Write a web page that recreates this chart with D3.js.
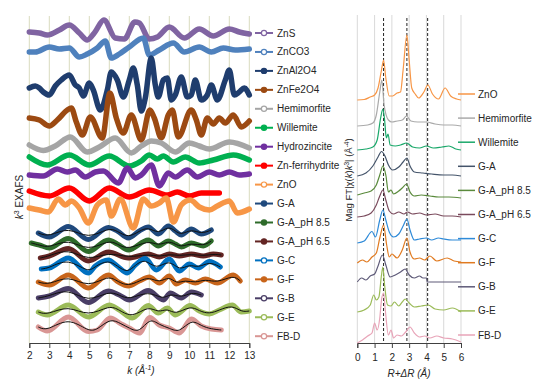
<!DOCTYPE html>
<html><head><meta charset="utf-8">
<script src="https://cdn.jsdelivr.net/npm/d3@7"></script>
<style>body{margin:0;background:#fff}svg{display:block;font-family:"Liberation Sans",Arial,sans-serif}</style>
</head><body><svg id="c" width="549" height="391"></svg>
<script>
// ---------- DATA ----------
const kTicks = [2,3,4,5,6,7,8,9,10,11,12,13];
const rTicks = [0,1,2,3,4,5,6];
const dashedR = [1.52, 2.87, 4.07];

// left panel: k^3 EXAFS (stacked, arbitrary units)  [k, value]
const ZnS = [[2.0,31.1],[2.5,31.0],[2.9,30.8],[3.5,31.3],[4.0,31.8],[4.5,31.0],[4.9,30.3],[5.25,31.0],[5.73,32.3],[6.3,30.5],[6.75,30.4],[7.28,32.1],[7.5,32.0],[8.0,30.4],[8.4,30.6],[9.0,31.6],[9.75,30.5],[10.5,31.4],[11.2,30.7],[12.0,31.4],[12.5,31.1],[13.0,30.9]];
const ZnCO3 = [[2.0,29.1],[2.3,29.1],[3.0,29.6],[3.5,29.4],[4.0,29.5],[4.5,28.6],[4.9,28.9],[5.4,29.5],[5.8,30.2],[6.1,28.5],[6.5,28.9],[7.0,29.6],[7.7,30.5],[8.0,28.8],[8.5,29.3],[9.2,30.0],[9.75,29.1],[10.5,29.6],[11.1,29.1],[11.7,29.5],[12.3,29.3],[13.0,29.4]];
const ZnAl2O4 = [[2.0,25.5],[2.3,25.7],[2.5,25.5],[2.7,25.1],[3.0,24.8],[3.3,25.7],[3.6,26.3],[4.0,26.8],[4.3,25.8],[4.5,25.5],[4.7,24.7],[5.0,26.0],[5.2,25.3],[5.55,23.3],[5.9,25.3],[6.1,27.1],[6.4,26.3],[6.7,24.6],[7.0,26.3],[7.2,27.5],[7.4,25.8],[7.6,23.2],[7.8,24.5],[8.1,28.5],[8.3,25.8],[8.45,24.6],[8.7,26.3],[8.9,26.5],[9.1,24.3],[9.3,24.8],[9.6,26.6],[9.9,24.6],[10.1,24.8],[10.3,26.3],[10.6,24.3],[10.9,24.8],[11.1,25.8],[11.4,24.3],[11.8,26.3],[12.0,27.3],[12.25,24.8],[12.5,25.1],[12.75,25.5],[13.0,24.8]];
const ZnFe2O4 = [[2.0,22.5],[2.5,22.3],[3.0,21.7],[3.4,22.3],[3.9,23.3],[4.1,23.5],[4.35,22.1],[4.65,20.8],[5.05,22.6],[5.65,20.5],[6.03,25.0],[6.35,22.5],[6.7,21.0],[7.1,22.8],[7.6,20.3],[8.03,23.3],[8.25,22.5],[8.6,20.5],[8.95,22.8],[9.15,23.3],[9.45,20.6],[10.1,23.3],[10.35,22.3],[10.6,20.8],[10.9,22.5],[11.2,21.9],[11.5,22.5],[11.8,22.0],[12.2,22.8],[12.6,21.6],[13.0,22.2]];
const Hemimorfite = [[2.0,19.8],[2.7,19.25],[3.3,19.7],[4.05,20.6],[4.9,19.1],[5.5,19.6],[6.3,20.5],[7.1,19.0],[7.6,19.7],[8.1,20.2],[8.6,20.0],[9.3,19.1],[10.0,20.0],[10.5,19.7],[11.0,19.4],[12.0,20.1],[13.0,19.5]];
const Willemite = [[2.0,18.6],[2.9,17.8],[4.0,18.8],[5.0,17.8],[6.0,18.7],[7.0,17.7],[7.6,18.2],[8.0,18.8],[8.4,18.4],[8.7,18.7],[9.2,18.1],[9.8,18.6],[10.5,18.0],[11.2,18.3],[12.2,18.8],[13.0,18.3]];
const Hydrozincite = [[2.0,16.8],[2.7,16.7],[3.4,17.4],[3.9,17.1],[4.3,17.3],[4.8,16.6],[5.3,17.1],[5.7,17.2],[6.45,16.0],[6.9,17.5],[7.3,16.5],[7.6,16.8],[8.1,17.8],[8.5,15.7],[8.95,17.0],[9.3,16.6],[9.9,17.3],[10.4,16.6],[11.0,17.1],[11.5,16.8],[12.0,17.1],[12.5,16.8],[13.0,16.9]];
const ZnFerrihydrite = [[2.0,15.2],[3.0,14.7],[4.0,15.5],[5.0,14.2],[6.0,15.5],[7.0,14.6],[8.0,15.3],[8.9,14.8],[9.4,15.1],[10.0,14.7],[10.6,15.0],[11.5,15.0]];
const ZnO = [[2.0,13.5],[2.5,13.3],[2.95,13.1],[3.45,14.4],[3.8,13.8],[4.1,14.2],[4.5,13.5],[4.95,12.0],[5.4,13.8],[5.85,14.3],[6.1,12.7],[6.55,14.4],[7.2,11.5],[7.7,14.4],[8.1,13.7],[8.5,14.0],[8.85,14.5],[9.2,12.1],[9.6,13.8],[10.05,14.3],[10.5,13.6],[11.0,13.3],[11.4,13.7],[12.0,14.2],[12.4,13.0],[13.0,13.4]];
const GA = [[2.45,11.0],[3.0,10.6],[3.95,11.65],[4.95,10.35],[5.95,11.55],[6.4,11.2],[6.95,10.5],[7.5,11.2],[7.95,11.6],[8.45,10.9],[8.95,11.7],[9.3,11.2],[9.6,10.8],[10.1,11.4],[10.6,10.9],[11.1,11.3]];
const GA85 = [[2.1,10.0],[2.5,9.8],[3.0,9.5],[3.95,10.45],[4.95,9.15],[5.95,10.3],[6.4,9.9],[6.95,9.3],[7.95,10.3],[8.45,9.7],[8.95,10.2],[9.3,9.9],[9.6,9.6],[10.1,10.0],[10.7,9.7],[11.1,10.2]];
const GA65 = [[2.55,8.5],[3.0,8.7],[3.95,9.45],[4.95,8.2],[5.95,9.1],[6.95,8.5],[7.95,8.9],[8.5,8.6],[9.0,8.9],[9.5,8.7],[10.1,8.9],[10.7,8.7],[11.2,8.9],[11.6,8.8]];
const GC = [[2.6,7.4],[3.0,7.5],[3.95,8.5],[4.95,7.0],[5.3,7.7],[5.95,8.3],[6.4,7.7],[6.9,7.0],[7.3,7.8],[7.8,8.45],[8.35,7.3],[9.0,8.4],[9.5,7.2],[10.0,7.9],[10.45,7.5],[11.0,8.15],[11.55,7.6]];
const GF = [[2.45,6.1],[3.0,5.8],[3.95,6.8],[4.95,5.5],[5.95,6.8],[6.45,6.1],[6.95,5.7],[7.5,6.2],[8.0,6.6],[8.5,6.0],[9.0,6.7],[9.35,5.9],[9.8,6.3],[10.3,6.0],[10.8,6.4],[11.4,6.0],[12.2,6.8],[12.55,6.2]];
const GB = [[2.45,4.5],[3.0,4.7],[3.95,5.45],[4.95,4.05],[5.95,5.2],[6.5,4.8],[7.0,4.3],[7.95,5.25],[8.7,4.3],[9.05,5.0],[9.6,4.5],[10.1,5.1],[10.6,4.8]];
const GE = [[2.45,3.1],[2.9,2.8],[3.95,3.8],[4.95,2.6],[6.0,3.8],[6.5,3.3],[7.15,2.5],[7.95,3.75],[8.45,3.0],[8.9,3.5],[9.3,2.8],[10.05,3.75],[10.5,3.2],[11.0,2.9],[11.5,3.3],[12.15,3.8],[12.6,3.1],[13.0,3.2]];
const FBD = [[2.45,1.6],[2.9,1.2],[3.95,2.6],[4.95,1.15],[5.4,1.3],[6.05,2.5],[6.6,1.9],[7.0,1.5],[7.5,1.0],[8.03,2.55],[8.5,1.8],[9.0,1.5],[9.5,1.0],[10.1,2.4],[10.6,1.7],[11.1,1.4],[11.6,1.3]];

// right panel: |FT| (stacked, arbitrary units)  [R, value]
const ftZnO = [[0,24.3],[0.4,24.35],[0.75,24.6],[1.0,24.8],[1.2,25.5],[1.4,27.3],[1.52,28.3],[1.65,26.5],[1.85,24.7],[2.05,24.7],[2.3,25.0],[2.5,25.1],[2.65,27.3],[2.87,30.8],[3.0,28.3],[3.15,25.5],[3.35,24.9],[3.55,24.5],[3.85,25.1],[4.08,25.8],[4.35,24.9],[4.7,24.4],[5.08,25.5],[5.4,24.7],[5.75,24.4],[6.0,24.3]];
const ftHemi = [[0,21.7],[0.6,21.8],[0.9,22.0],[1.1,22.8],[1.3,25.1],[1.42,26.3],[1.55,23.8],[1.8,22.3],[2.0,22.1],[2.3,22.2],[2.6,22.3],[2.85,22.7],[3.1,22.2],[3.5,22.1],[4.0,22.1],[4.5,21.9],[5.0,21.8],[5.5,21.8],[6.0,21.7]];
const ftWill = [[0,19.3],[0.5,19.4],[0.9,19.6],[1.15,20.3],[1.35,22.5],[1.48,23.4],[1.58,22.3],[1.68,20.5],[1.78,20.9],[1.9,19.8],[2.2,19.7],[2.5,19.8],[2.85,20.0],[3.2,19.6],[3.6,19.5],[4.0,19.7],[4.4,19.5],[4.9,19.6],[5.3,19.7],[5.7,19.4],[6.0,19.3]];
const ftGA = [[0,16.7],[0.5,17.0],[0.9,17.7],[1.2,18.6],[1.4,19.15],[1.6,18.7],[1.8,17.8],[2.05,17.3],[2.4,17.6],[2.65,18.1],[2.87,18.5],[3.05,17.7],[3.3,17.1],[3.8,17.0],[4.3,16.9],[5.0,16.8],[5.5,16.8],[6.0,16.7]];
const ftGA85 = [[0,14.8],[0.4,15.0],[0.8,15.2],[1.1,15.8],[1.3,16.8],[1.48,17.7],[1.65,16.8],[1.8,15.1],[1.95,15.3],[2.1,14.9],[2.4,15.2],[2.6,15.5],[2.85,15.9],[3.05,15.1],[3.3,14.7],[3.7,14.8],[4.2,14.7],[4.7,14.6],[5.3,14.6],[6.0,14.5]];
const ftGA65 = [[0,12.6],[0.4,12.7],[0.8,13.0],[1.1,13.8],[1.3,14.7],[1.48,15.3],[1.65,14.3],[1.85,13.2],[2.1,12.9],[2.4,13.1],[2.7,12.9],[2.9,13.1],[3.2,12.9],[3.6,13.0],[4.0,12.8],[4.5,12.9],[5.0,12.7],[5.5,12.7],[6.0,12.6]];
const ftGC = [[0,10.0],[0.4,10.2],[0.85,11.15],[1.05,10.6],[1.3,12.3],[1.48,13.3],[1.65,12.3],[1.85,11.1],[2.1,10.6],[2.4,10.9],[2.65,11.7],[2.87,12.4],[3.05,11.3],[3.3,10.3],[3.6,10.4],[4.0,10.5],[4.3,10.3],[4.7,10.5],[5.0,10.4],[5.5,10.3],[6.0,10.3]];
const ftGF = [[0,8.0],[0.3,8.3],[0.55,8.1],[0.85,8.6],[1.1,9.0],[1.3,10.5],[1.52,11.8],[1.7,9.8],[1.85,8.6],[2.0,8.9],[2.3,8.5],[2.6,9.3],[2.87,10.5],[3.05,9.1],[3.3,8.4],[3.6,8.5],[3.9,8.3],[4.2,8.7],[4.6,8.2],[5.2,8.5],[5.6,8.2],[6.0,8.1]];
const ftGB = [[0,6.1],[0.25,6.5],[0.5,6.3],[0.75,6.7],[1.0,6.9],[1.2,7.7],[1.45,8.8],[1.65,7.8],[1.9,6.6],[2.2,6.8],[2.5,7.1],[2.77,7.4],[3.0,6.8],[3.3,6.5],[3.6,6.7],[3.8,6.5],[4.0,6.5],[4.05,6.1],[5.0,6.1],[6.0,6.1]];
const ftGE = [[0,3.1],[0.4,3.3],[0.75,3.8],[0.95,4.8],[1.1,4.3],[1.25,4.6],[1.4,6.8],[1.48,7.6],[1.58,5.8],[1.75,3.8],[1.95,3.7],[2.15,4.1],[2.4,3.7],[2.6,4.1],[2.77,4.4],[3.0,4.0],[3.3,3.6],[3.7,3.7],[4.1,3.8],[4.5,3.4],[5.0,3.3],[5.5,3.5],[6.0,3.1]];
const ftFBD = [[0,0.0],[0.3,0.3],[0.6,0.7],[0.85,1.0],[1.0,2.0],[1.15,1.3],[1.3,2.5],[1.4,4.3],[1.52,5.0],[1.62,3.3],[1.8,0.8],[1.95,1.3],[2.1,0.5],[2.3,0.8],[2.55,0.7],[2.8,1.1],[3.05,1.6],[3.3,1.0],[3.6,0.6],[3.9,0.7],[4.2,0.5],[4.6,0.7],[5.0,0.5],[5.5,0.4],[6.0,0.1]];

const leftNames = ["ZnS","ZnCO3","ZnAl2O4","ZnFe2O4","Hemimorfite","Willemite","Hydrozincite","Zn-ferrihydrite","ZnO","G-A","G-A_pH 8.5","G-A_pH 6.5","G-C","G-F","G-B","G-E","FB-D"];
const leftData = [ZnS,ZnCO3,ZnAl2O4,ZnFe2O4,Hemimorfite,Willemite,Hydrozincite,ZnFerrihydrite,ZnO,GA,GA85,GA65,GC,GF,GB,GE,FBD];
const leftColors = ["#8064a2","#4f81bd","#1f3d6e","#9c4a12","#a5a5a5","#00b050","#7030a0","#ff0000","#f79646","#1f497d","#2e6b2a","#632523","#0070c0","#c8651b","#4a3e66","#9bbb59","#d99694"];
const leftHasFit = [0,0,0,0,0,0,0,0,0,1,1,1,1,1,1,1,1];
const leftFilled = [0,0,1,1,0,1,1,1,0,1,1,1,0,1,0,0,0];

const rightNames = ["ZnO","Hemimorfite","Willemite","G-A","G-A_pH 8.5","G-A_pH 6.5","G-C","G-F","G-B","G-E","FB-D"];
const rightData = [ftZnO,ftHemi,ftWill,ftGA,ftGA85,ftGA65,ftGC,ftGF,ftGB,ftGE,ftFBD];
const rightColors = ["#f79646","#aaaaaa","#1aa86a","#44546a","#5a8a3c","#7a4a5c","#2e8ad8","#e07a20","#5e5a78","#9bbb59","#e8a4b8"];

// ---------- DRAW ----------
const svg = d3.select("#c");
const txt = "#262626";

// Left panel
const xL = d3.scaleLinear().domain([2,13]).range([29.3,249.3]);
const yL = d3.scaleLinear().domain([0,32.7]).range([343,16]);
const gL = svg.append("g");
gL.selectAll("line.grid").data(kTicks).join("line")
  .attr("x1",d=>xL(d)).attr("x2",d=>xL(d)).attr("y1",16).attr("y2",343)
  .attr("stroke","#d9dbbf").attr("stroke-width",1);
const axL = gL.append("g").attr("transform","translate(0,343)")
  .call(d3.axisBottom(xL).tickValues(kTicks).tickSize(5).tickPadding(4).tickFormat(d3.format("d")));
axL.select(".domain").attr("stroke","#404040");
axL.selectAll(".tick line").attr("stroke","#404040");
axL.selectAll("text").attr("font-size",10).attr("fill",txt).attr("font-family","Liberation Sans, Arial, sans-serif");

const lineL = d3.line().x(d=>xL(d[0])).y(d=>yL(d[1])).curve(d3.curveMonotoneX);
const fitL = d3.line().x(d=>xL(d[0])).y(d=>yL(d[1])).curve(d3.curveBasis);
leftData.forEach((dat,i)=>{
  gL.append("path").attr("d",lineL(dat)).attr("fill","none").attr("stroke",leftColors[i])
    .attr("stroke-width", leftHasFit[i] ? 5 : 5.5).attr("stroke-linecap","round").attr("stroke-linejoin","round");
});
leftData.forEach((dat,i)=>{
  if(leftHasFit[i]) gL.append("path").attr("d",fitL(dat)).attr("fill","none").attr("stroke","#111").attr("stroke-width",1);
});

// left legend
const legL = svg.append("g");
leftNames.forEach((n,i)=>{
  const y = 33 + i*18.95;
  legL.append("line").attr("x1",255).attr("x2",273).attr("y1",y).attr("y2",y).attr("stroke",leftColors[i]).attr("stroke-width",2);
  legL.append("circle").attr("cx",264).attr("cy",y).attr("r",2.6)
    .attr("fill", leftFilled[i] ? leftColors[i] : "#fff").attr("stroke",leftColors[i]).attr("stroke-width",1.2);
  legL.append("text").attr("x",277).attr("y",y).attr("dy","0.35em").attr("font-size",10).attr("fill",txt).text(n);
});

// left axis titles
svg.append("text").attr("transform","translate(23,197) rotate(-90)").attr("text-anchor","middle")
  .attr("font-size",10).attr("fill",txt)
  .html('<tspan font-style="italic">k</tspan><tspan dy="-4" font-size="7">3</tspan><tspan dy="4"> EXAFS</tspan>');
svg.append("text").attr("x",141).attr("y",374).attr("text-anchor","middle").attr("font-size",10).attr("fill",txt)
  .attr("font-style","italic").html('k (Å<tspan dy="-4" font-size="7">-1</tspan><tspan dy="4">)</tspan>');

// Right panel
const xR = d3.scaleLinear().domain([0,6]).range([357.3,461]);
const yR = d3.scaleLinear().domain([0,32.7]).range([343,16]);
const gR = svg.append("g");
gR.selectAll("line.grid").data(rTicks).join("line")
  .attr("x1",d=>xR(d)).attr("x2",d=>xR(d)).attr("y1",15).attr("y2",343)
  .attr("stroke","#d9d9d9").attr("stroke-width",1);
const axR = gR.append("g").attr("transform","translate(0,343)")
  .call(d3.axisBottom(xR).tickValues(rTicks).tickSize(5).tickPadding(6).tickFormat(d3.format("d")));
axR.select(".domain").attr("stroke","#404040");
axR.selectAll(".tick line").attr("stroke","#404040");
axR.selectAll("text").attr("font-size",10).attr("fill",txt).attr("font-family","Liberation Sans, Arial, sans-serif");

gR.selectAll("line.dash").data(dashedR).join("line")
  .attr("x1",d=>xR(d)).attr("x2",d=>xR(d)).attr("y1",18).attr("y2",343)
  .attr("stroke","#222").attr("stroke-width",1).attr("stroke-dasharray","3,2");

const lineR = d3.line().x(d=>xR(d[0])).y(d=>yR(d[1])).curve(d3.curveMonotoneX);
rightData.forEach((dat,i)=>{
  gR.append("path").attr("d",lineR(dat)).attr("fill","none").attr("stroke",rightColors[i]).attr("stroke-width",1.2);
});

const legR = svg.append("g");
rightNames.forEach((n,i)=>{
  const y = 94 + i*24.1;
  legR.append("line").attr("x1",458).attr("x2",475).attr("y1",y).attr("y2",y).attr("stroke",rightColors[i]).attr("stroke-width",1.5);
  legR.append("text").attr("x",478).attr("y",y).attr("dy","0.35em").attr("font-size",10).attr("fill",txt).text(n);
});

svg.append("text").attr("transform","translate(352,180) rotate(-90)").attr("text-anchor","middle")
  .attr("font-size",9.5).attr("fill",txt)
  .html('Mag FT|χ(<tspan font-style="italic">k</tspan>)<tspan font-style="italic">k</tspan><tspan dy="-3.5" font-size="6.5">3</tspan><tspan dy="3.5">| (Å</tspan><tspan dy="-3.5" font-size="6.5">-4</tspan><tspan dy="3.5">)</tspan>');
svg.append("text").attr("x",409).attr("y",377).attr("text-anchor","middle").attr("font-size",10).attr("fill",txt)
  .attr("font-style","italic").text("R+ΔR (Å)");
</script></body></html>
